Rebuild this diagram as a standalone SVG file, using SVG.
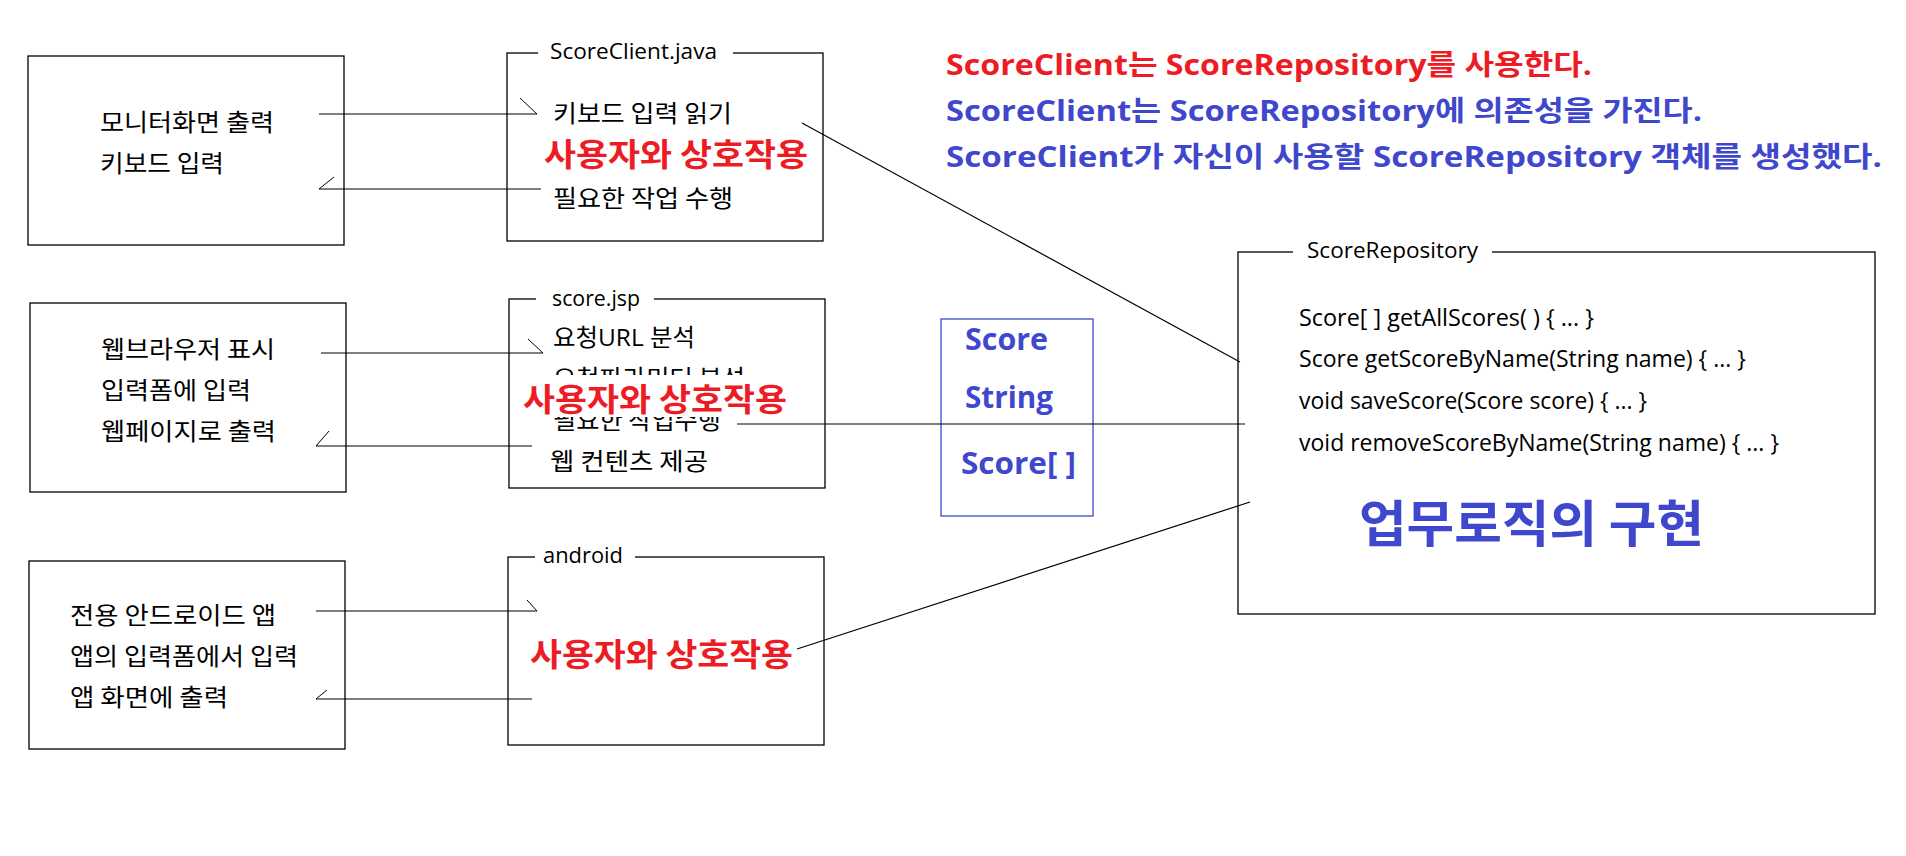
<svg xmlns="http://www.w3.org/2000/svg" width="1906" height="856" viewBox="0 0 1906 856">
<style>
.box{fill:none;stroke:#000;stroke-width:1.3}
.gap{fill:#fff;stroke:none}
.t{font-family:"Open Sans","Noto Sans CJK KR",sans-serif;font-size:24px;fill:#000}
.k{font-family:"Noto Sans CJK KR","Open Sans",sans-serif;font-size:24px;fill:#000}
.ttl{font-family:"Open Sans","Noto Sans CJK KR",sans-serif;font-size:22px;fill:#000}
.red{font-family:"Noto Sans CJK KR",sans-serif;font-size:32px;font-weight:bold;fill:#ed1c24}
.hd{font-family:"Open Sans","Noto Sans CJK KR",sans-serif;font-size:28px;font-weight:bold}
.typ{font-family:"Open Sans","Noto Sans CJK KR",sans-serif;font-size:30px;font-weight:bold;fill:#3f48cc}
.conn{stroke:#000;stroke-width:1.2;fill:none}
.barb{stroke:#000;stroke-width:1;fill:none}
</style>
<rect width="1906" height="856" fill="#fff"/>

<g id="header">
<text class="hd" x="946" y="75" fill="#ed1c24" textLength="646" lengthAdjust="spacingAndGlyphs">ScoreClient는 ScoreRepository를 사용한다.</text>
<text class="hd" x="946" y="121" fill="#3f48cc" textLength="756" lengthAdjust="spacingAndGlyphs">ScoreClient는 ScoreRepository에 의존성을 가진다.</text>
<text class="hd" x="946" y="167" fill="#3f48cc" textLength="936" lengthAdjust="spacingAndGlyphs">ScoreClient가 자신이 사용할 ScoreRepository 객체를 생성했다.</text>
</g>

<g id="monitor">
<rect class="box" x="28" y="56" width="316" height="189"/>
<text class="k" x="100" y="131" textLength="174" lengthAdjust="spacingAndGlyphs">모니터화면 출력</text>
<text class="k" x="100" y="172" textLength="124" lengthAdjust="spacingAndGlyphs">키보드 입력</text>
</g>

<g id="scoreclient">
<rect class="box" x="507" y="53" width="316" height="188"/>
<rect class="gap" x="538" y="45" width="195" height="16"/>
<text class="ttl" x="550" y="59" textLength="167" lengthAdjust="spacingAndGlyphs">ScoreClient.java</text>
<text class="k" x="553" y="122" textLength="179" lengthAdjust="spacingAndGlyphs">키보드 입력 읽기</text>
<text class="red" x="544" y="166" textLength="264" lengthAdjust="spacingAndGlyphs">사용자와 상호작용</text>
<text class="k" x="553" y="207" textLength="180" lengthAdjust="spacingAndGlyphs">필요한 작업 수행</text>
</g>

<g id="browser">
<rect class="box" x="30" y="303" width="316" height="189"/>
<text class="k" x="101" y="358" textLength="174" lengthAdjust="spacingAndGlyphs">웹브라우저 표시</text>
<text class="k" x="101" y="399" textLength="150" lengthAdjust="spacingAndGlyphs">입력폼에 입력</text>
<text class="k" x="101" y="440" textLength="175" lengthAdjust="spacingAndGlyphs">웹페이지로 출력</text>
</g>

<g id="scorejsp">
<rect class="box" x="509" y="299" width="316" height="189"/>
<rect class="gap" x="536" y="291" width="118" height="16"/>
<text class="ttl" x="552" y="306" textLength="88" lengthAdjust="spacingAndGlyphs">score.jsp</text>
<text class="t" x="553" y="346" textLength="142" lengthAdjust="spacingAndGlyphs">요청URL 분석</text>
<text class="k" x="553" y="387" textLength="192" lengthAdjust="spacingAndGlyphs">요청파라미터 분석</text>
<text class="k" x="553" y="429" textLength="168" lengthAdjust="spacingAndGlyphs">필요한 작업수행</text>
<rect class="gap" x="520" y="375" width="275" height="42"/>
<text class="red" x="523" y="411" textLength="264" lengthAdjust="spacingAndGlyphs">사용자와 상호작용</text>
<text class="k" x="550" y="470" textLength="158" lengthAdjust="spacingAndGlyphs">웹 컨텐츠 제공</text>
</g>

<g id="androidapp">
<rect class="box" x="29" y="561" width="316" height="188"/>
<text class="k" x="70" y="624" textLength="206" lengthAdjust="spacingAndGlyphs">전용 안드로이드 앱</text>
<text class="k" x="70" y="665" textLength="228" lengthAdjust="spacingAndGlyphs">앱의 입력폼에서 입력</text>
<text class="k" x="70" y="706" textLength="158" lengthAdjust="spacingAndGlyphs">앱 화면에 출력</text>
</g>

<g id="android">
<rect class="box" x="508" y="557" width="316" height="188"/>
<rect class="gap" x="535" y="549" width="100" height="16"/>
<text class="ttl" x="543" y="563" textLength="80" lengthAdjust="spacingAndGlyphs">android</text>
<text class="red" x="530" y="666" textLength="263" lengthAdjust="spacingAndGlyphs">사용자와 상호작용</text>
</g>

<g id="types">
<rect x="941" y="319" width="152" height="197" fill="none" stroke="#3f48cc" stroke-width="1.3"/>
<text class="typ" x="965" y="350" textLength="83" lengthAdjust="spacingAndGlyphs">Score</text>
<text class="typ" x="965" y="408" textLength="88" lengthAdjust="spacingAndGlyphs">String</text>
<text class="typ" x="961" y="474" textLength="115" lengthAdjust="spacingAndGlyphs">Score[ ]</text>
</g>

<g id="scorerepository">
<rect class="box" x="1238" y="252" width="637" height="362"/>
<rect class="gap" x="1293" y="244" width="199" height="16"/>
<text class="ttl" x="1307" y="258" textLength="171" lengthAdjust="spacingAndGlyphs">ScoreRepository</text>
<text class="t" x="1299" y="326" textLength="295" lengthAdjust="spacingAndGlyphs">Score[ ] getAllScores( ) { ... }</text>
<text class="t" x="1299" y="367" textLength="447" lengthAdjust="spacingAndGlyphs">Score getScoreByName(String name) { ... }</text>
<text class="t" x="1299" y="409" textLength="348" lengthAdjust="spacingAndGlyphs">void saveScore(Score score) { ... }</text>
<text class="t" x="1299" y="451" textLength="480" lengthAdjust="spacingAndGlyphs">void removeScoreByName(String name) { ... }</text>
<text x="1359" y="542" font-family="Noto Sans CJK KR, sans-serif" font-size="50" font-weight="bold" fill="#3f48cc" textLength="345" lengthAdjust="spacingAndGlyphs">업무로직의 구현</text>
</g>

<g id="connectors">
<line class="conn" x1="319" y1="114" x2="537" y2="114"/>
<line class="barb" x1="520" y1="98" x2="537" y2="114"/>
<line class="conn" x1="541" y1="189" x2="319" y2="189"/>
<line class="barb" x1="334" y1="177" x2="319" y2="189"/>
<line class="conn" x1="321" y1="353" x2="543" y2="353"/>
<line class="barb" x1="528" y1="339" x2="543" y2="353"/>
<line class="conn" x1="532" y1="446" x2="316" y2="446"/>
<line class="barb" x1="329" y1="431" x2="316" y2="446"/>
<line class="conn" x1="316" y1="611" x2="537" y2="611"/>
<line class="barb" x1="527" y1="600" x2="537" y2="611"/>
<line class="conn" x1="532" y1="699" x2="316" y2="699"/>
<line class="barb" x1="327" y1="690" x2="316" y2="699"/>
<line class="conn" x1="802" y1="123" x2="1240" y2="362"/>
<line class="conn" x1="737" y1="424" x2="1245" y2="424"/>
<line class="conn" x1="797" y1="649" x2="1250" y2="502"/>
</g>
</svg>
